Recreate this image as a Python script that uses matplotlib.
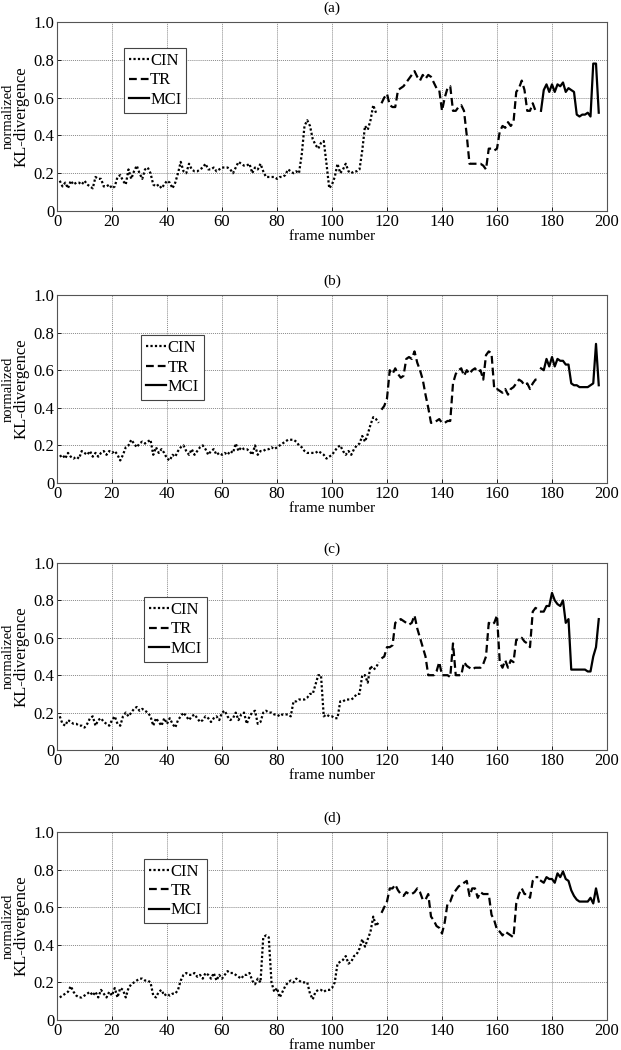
import numpy as np
import matplotlib
matplotlib.use("Agg")
import matplotlib.pyplot as plt

plt.rcParams['font.family'] = ['Liberation Serif', 'DejaVu Serif']

# first frame of each segment
cin_start = 1
tr_start = 118
mci_start = 176

series_names = ["CIN", "TR", "MCI"]
panel_labels = ["(a)", "(b)", "(c)", "(d)"]
x_ticks = [0, 20, 40, 60, 80, 100, 120, 140, 160, 180, 200]
y_ticks = [0, 0.2, 0.4, 0.6, 0.8, 1.0]
y_tick_labels = ["0", "0.2", "0.4", "0.6", "0.8", "1.0"]

# ---- panel (a)
cin_a = [0.16, 0.13, 0.15, 0.12, 0.16, 0.14, 0.15, 0.15, 0.14, 0.16, 0.14, 0.13, 0.12, 0.18, 0.17, 0.17, 0.13, 0.13, 0.14, 0.12,
         0.13, 0.18, 0.19, 0.16, 0.14, 0.22, 0.17, 0.21, 0.24, 0.20, 0.17, 0.22, 0.23, 0.20, 0.14, 0.13, 0.14, 0.12, 0.14, 0.16,
         0.15, 0.12, 0.15, 0.20, 0.26, 0.21, 0.20, 0.25, 0.22, 0.21, 0.21, 0.22, 0.23, 0.25, 0.22, 0.22, 0.23, 0.21, 0.22, 0.23,
         0.23, 0.23, 0.22, 0.20, 0.23, 0.26, 0.25, 0.24, 0.24, 0.25, 0.20, 0.23, 0.22, 0.25, 0.21, 0.18, 0.18, 0.18, 0.18, 0.17,
         0.18, 0.18, 0.19, 0.22, 0.21, 0.20, 0.21, 0.20, 0.30, 0.45, 0.48, 0.45, 0.38, 0.35, 0.33, 0.36, 0.37, 0.25, 0.12, 0.14,
         0.18, 0.25, 0.20, 0.22, 0.25, 0.21, 0.20, 0.21, 0.21, 0.22, 0.32, 0.45, 0.43, 0.48, 0.56, 0.52]
tr_a = [0.57, 0.60, 0.62, 0.56, 0.55, 0.55, 0.64, 0.65, 0.66, 0.68, 0.70, 0.72, 0.74, 0.71, 0.69, 0.72, 0.70, 0.72, 0.71, 0.68,
        0.65, 0.64, 0.53, 0.60, 0.65, 0.66, 0.53, 0.53, 0.55, 0.56, 0.53, 0.40, 0.25, 0.25, 0.25, 0.25, 0.25, 0.24, 0.22, 0.33,
        0.33, 0.32, 0.33, 0.42, 0.45, 0.44, 0.47, 0.45, 0.47, 0.63, 0.65, 0.69, 0.64, 0.53, 0.53, 0.57, 0.53, 0.53]
mci_a = [0.53, 0.64, 0.67, 0.63, 0.67, 0.63, 0.67, 0.66, 0.68, 0.63, 0.65, 0.64, 0.63, 0.51, 0.50, 0.51, 0.51, 0.52, 0.50, 0.78,
         0.78, 0.52]

# ---- panel (b)
cin_b = [0.14, 0.15, 0.13, 0.16, 0.14, 0.13, 0.14, 0.13, 0.17, 0.16, 0.15, 0.17, 0.14, 0.16, 0.14, 0.16, 0.17, 0.15, 0.17, 0.16,
         0.17, 0.15, 0.12, 0.15, 0.19, 0.20, 0.23, 0.21, 0.19, 0.21, 0.22, 0.21, 0.22, 0.23, 0.15, 0.19, 0.16, 0.18, 0.16, 0.13,
         0.12, 0.15, 0.14, 0.17, 0.19, 0.20, 0.17, 0.15, 0.18, 0.15, 0.17, 0.19, 0.20, 0.18, 0.15, 0.17, 0.18, 0.15, 0.16, 0.15,
         0.16, 0.15, 0.17, 0.16, 0.21, 0.17, 0.19, 0.18, 0.18, 0.17, 0.15, 0.20, 0.15, 0.17, 0.17, 0.18, 0.18, 0.19, 0.18, 0.19,
         0.20, 0.21, 0.22, 0.23, 0.23, 0.23, 0.22, 0.20, 0.19, 0.17, 0.16, 0.16, 0.16, 0.16, 0.17, 0.16, 0.15, 0.13, 0.14, 0.15,
         0.17, 0.19, 0.20, 0.17, 0.15, 0.17, 0.15, 0.18, 0.20, 0.21, 0.25, 0.22, 0.26, 0.31, 0.35, 0.34, 0.32]
tr_b = [0.39, 0.41, 0.45, 0.60, 0.58, 0.61, 0.58, 0.56, 0.57, 0.66, 0.67, 0.66, 0.70, 0.64, 0.60, 0.55, 0.47, 0.40, 0.32, 0.32,
        0.33, 0.34, 0.32, 0.32, 0.33, 0.33, 0.53, 0.58, 0.60, 0.61, 0.57, 0.60, 0.58, 0.60, 0.61, 0.59, 0.60, 0.55, 0.68, 0.70,
        0.69, 0.50, 0.50, 0.49, 0.48, 0.50, 0.47, 0.50, 0.51, 0.53, 0.55, 0.54, 0.52, 0.53, 0.50, 0.53, 0.55, 0.55]
mci_b = [0.61, 0.60, 0.66, 0.62, 0.67, 0.62, 0.66, 0.65, 0.65, 0.63, 0.63, 0.53, 0.52, 0.52, 0.51, 0.51, 0.51, 0.51, 0.52, 0.53,
         0.74, 0.52]

# ---- panel (c)
cin_c = [0.18, 0.14, 0.13, 0.16, 0.15, 0.14, 0.14, 0.13, 0.13, 0.12, 0.14, 0.17, 0.18, 0.13, 0.16, 0.17, 0.15, 0.14, 0.13, 0.16,
         0.18, 0.14, 0.13, 0.18, 0.20, 0.18, 0.20, 0.22, 0.23, 0.21, 0.22, 0.21, 0.20, 0.18, 0.13, 0.17, 0.15, 0.13, 0.17, 0.14,
         0.17, 0.14, 0.12, 0.16, 0.18, 0.20, 0.18, 0.16, 0.18, 0.19, 0.17, 0.15, 0.16, 0.18, 0.17, 0.15, 0.17, 0.18, 0.16, 0.20,
         0.21, 0.18, 0.16, 0.17, 0.20, 0.16, 0.19, 0.20, 0.14, 0.18, 0.20, 0.21, 0.14, 0.15, 0.20, 0.21, 0.20, 0.20, 0.19, 0.19,
         0.18, 0.19, 0.19, 0.19, 0.18, 0.26, 0.26, 0.27, 0.27, 0.27, 0.28, 0.30, 0.30, 0.35, 0.40, 0.40, 0.18, 0.19, 0.18, 0.18,
         0.17, 0.17, 0.26, 0.26, 0.27, 0.27, 0.27, 0.28, 0.30, 0.30, 0.40, 0.40, 0.36, 0.45, 0.43, 0.44, 0.47]
tr_c = [0.49, 0.50, 0.55, 0.55, 0.56, 0.68, 0.69, 0.70, 0.69, 0.68, 0.67, 0.68, 0.72, 0.65, 0.60, 0.55, 0.50, 0.40, 0.40, 0.40,
        0.42, 0.47, 0.40, 0.40, 0.40, 0.39, 0.57, 0.40, 0.40, 0.40, 0.47, 0.45, 0.44, 0.43, 0.44, 0.44, 0.44, 0.46, 0.50, 0.68,
        0.67, 0.68, 0.72, 0.47, 0.44, 0.48, 0.44, 0.48, 0.47, 0.59, 0.59, 0.60, 0.58, 0.57, 0.55, 0.74, 0.76, 0.75]
mci_c = [0.74, 0.74, 0.77, 0.77, 0.84, 0.80, 0.78, 0.77, 0.80, 0.68, 0.70, 0.43, 0.43, 0.43, 0.43, 0.43, 0.43, 0.42, 0.42, 0.50,
         0.55, 0.70]

# ---- panel (d)
cin_d = [0.12, 0.13, 0.14, 0.15, 0.18, 0.15, 0.13, 0.12, 0.12, 0.13, 0.14, 0.15, 0.13, 0.15, 0.12, 0.16, 0.14, 0.12, 0.15, 0.13,
         0.17, 0.12, 0.17, 0.16, 0.12, 0.17, 0.19, 0.20, 0.21, 0.22, 0.22, 0.21, 0.21, 0.20, 0.13, 0.12, 0.15, 0.16, 0.13, 0.14,
         0.13, 0.14, 0.14, 0.16, 0.21, 0.24, 0.25, 0.24, 0.24, 0.25, 0.23, 0.24, 0.22, 0.25, 0.24, 0.22, 0.25, 0.21, 0.24, 0.22,
         0.24, 0.26, 0.25, 0.25, 0.24, 0.23, 0.22, 0.24, 0.24, 0.25, 0.21, 0.19, 0.22, 0.20, 0.44, 0.45, 0.44, 0.20, 0.15, 0.17,
         0.12, 0.15, 0.18, 0.20, 0.21, 0.20, 0.22, 0.21, 0.20, 0.20, 0.20, 0.14, 0.11, 0.15, 0.16, 0.16, 0.15, 0.16, 0.16, 0.17,
         0.20, 0.30, 0.31, 0.32, 0.34, 0.30, 0.31, 0.34, 0.35, 0.38, 0.43, 0.39, 0.43, 0.47, 0.55, 0.50, 0.52]
tr_d = [0.57, 0.60, 0.63, 0.70, 0.70, 0.72, 0.69, 0.67, 0.66, 0.68, 0.67, 0.67, 0.68, 0.70, 0.68, 0.64, 0.64, 0.67, 0.55, 0.53,
        0.50, 0.49, 0.46, 0.52, 0.62, 0.63, 0.67, 0.69, 0.71, 0.72, 0.73, 0.74, 0.66, 0.70, 0.70, 0.65, 0.68, 0.67, 0.67, 0.67,
        0.56, 0.53, 0.48, 0.47, 0.45, 0.47, 0.46, 0.45, 0.44, 0.62, 0.67, 0.70, 0.67, 0.67, 0.65, 0.74, 0.76, 0.76]
mci_d = [0.74, 0.73, 0.76, 0.75, 0.75, 0.73, 0.78, 0.76, 0.79, 0.75, 0.74, 0.69, 0.66, 0.64, 0.63, 0.63, 0.63, 0.63, 0.65, 0.62,
         0.70, 0.63]

all_cin = [cin_a, cin_b, cin_c, cin_d]
all_tr = [tr_a, tr_b, tr_c, tr_d]
all_mci = [mci_a, mci_b, mci_c, mci_d]

# layout (pixels of a 621x1050 figure): axes top / bottom edges
W, H = 621.0, 1050.0
ax_left, ax_right = 57, 607
ax_tops = [22, 295, 563, 832]
ax_bots = [211, 483, 750, 1020]
legend_corner = [(0.121, 0.862), (0.152, 0.786), (0.158, 0.818), (0.158, 0.858)]

fig = plt.figure(figsize=(W / 100, H / 100), dpi=100)

for i in range(4):
    top, bot = ax_tops[i], ax_bots[i]
    ax = fig.add_axes([ax_left / W, 1 - bot / H, (ax_right - ax_left) / W, (bot - top) / H])

    cin, tr, mci = all_cin[i], all_tr[i], all_mci[i]
    ax.plot(np.arange(cin_start, cin_start + len(cin)), cin, color="black", lw=1.6,
            linestyle=(0, (1, 1)), label="CIN")
    ax.plot(np.arange(tr_start, tr_start + len(tr)), tr, color="black", lw=1.6,
            linestyle=(0, (3.5, 1.8)), label="TR")
    ax.plot(np.arange(mci_start, mci_start + len(mci)), mci, color="black", lw=1.6,
            linestyle="-", label="MCI")

    ax.set_xlim(0, 200)
    ax.set_ylim(0, 1.0)
    ax.set_xticks(x_ticks)
    ax.set_yticks(y_ticks)
    ax.set_yticklabels(y_tick_labels)
    ax.tick_params(direction="in", length=3, width=0.6, labelsize=12, pad=2)
    ax.grid(True, color="#8a8a8a", linestyle=(0, (1, 1)), linewidth=0.7)
    for s in ax.spines.values():
        s.set_linewidth(0.8)
        s.set_color("#555555")

    ax.set_title(panel_labels[i], fontsize=11, pad=7)
    ax.set_xlabel("frame number", fontsize=11, labelpad=0)

    yc = 1 - (top + bot) / 2 / H
    fig.text(8 / W, yc, "normalized", rotation=90, ha="center", va="center", fontsize=10.5)
    fig.text(22 / W, yc, "KL-divergence", rotation=90, ha="center", va="center", fontsize=12)

    leg = ax.legend(loc="upper left", bbox_to_anchor=legend_corner[i], borderaxespad=0,
                    fancybox=False, edgecolor="#444444", framealpha=1, fontsize=12,
                    handlelength=1.2, handletextpad=0.1, borderpad=0.3, labelspacing=0.2)
    leg.get_frame().set_linewidth(0.8)

fig.savefig("out.png", dpi=100)
